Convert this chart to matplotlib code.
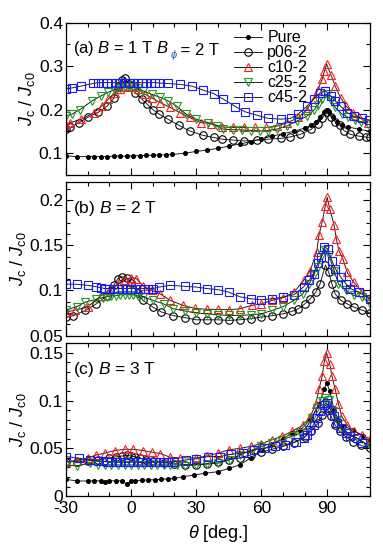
import matplotlib
matplotlib.use("Agg")
import matplotlib.pyplot as plt
from matplotlib.ticker import MultipleLocator

plt.rcParams['font.family'] = ['Liberation Sans', 'DejaVu Sans']
plt.rcParams['mathtext.fontset'] = 'custom'
plt.rcParams['mathtext.rm'] = 'Liberation Sans'
plt.rcParams['mathtext.it'] = 'Liberation Sans:italic'

# ---------------- panel (a): B = 1 T ----------------
th_pure_a = [-30, -25, -20, -17, -14, -11, -8, -5, -2, 1, 4, 7, 10, 13, 16, 19, 25, 30, 35, 40, 45, 50, 55,
             60, 65, 70, 75, 80, 83, 85, 87, 89, 90, 91, 93, 95, 97, 100, 105, 110]
jc_pure_a = [0.094, 0.092, 0.092, 0.092, 0.092, 0.092, 0.093, 0.093, 0.093, 0.094, 0.094, 0.095, 0.095, 0.096,
             0.096, 0.097, 0.100, 0.104, 0.107, 0.111, 0.116, 0.121, 0.126, 0.133, 0.139, 0.145, 0.150, 0.158,
             0.165, 0.172, 0.182, 0.195, 0.200, 0.195, 0.183, 0.172, 0.165, 0.160, 0.155, 0.150]

th_p06_a = [-30, -28, -24, -20, -15, -11, -8, -6, -4, -3, -1, 2, 5, 7.5, 10, 13, 17, 22, 27, 33, 38, 42, 47, 52,
            58, 63, 69, 73, 78, 83, 86, 88, 90, 92, 94, 96, 98, 101, 105, 108, 110]
jc_p06_a = [0.155, 0.159, 0.170, 0.182, 0.194, 0.208, 0.226, 0.251, 0.269, 0.272, 0.258, 0.239, 0.224, 0.212,
            0.200, 0.189, 0.178, 0.164, 0.151, 0.141, 0.136, 0.132, 0.130, 0.128, 0.130, 0.132, 0.134, 0.137,
            0.143, 0.155, 0.168, 0.180, 0.195, 0.184, 0.172, 0.164, 0.152, 0.143, 0.139, 0.137, 0.136]

th_c10_a = [-30, -28, -23, -17, -13.5, -10.5, -7.5, -5, -3, -1, 1, 3, 6.5, 9.5, 13.5, 18, 22.5, 27, 32, 37, 42,
            47, 52, 57, 62, 67, 72, 77, 81, 84, 86, 88, 89, 90, 92, 94, 96.5, 99, 102, 105, 109]
jc_c10_a = [0.165, 0.170, 0.178, 0.193, 0.208, 0.224, 0.239, 0.247, 0.252, 0.255, 0.253, 0.248, 0.235, 0.227,
            0.216, 0.205, 0.193, 0.182, 0.170, 0.168, 0.160, 0.159, 0.159, 0.159, 0.159, 0.162, 0.170, 0.182,
            0.200, 0.224, 0.246, 0.270, 0.288, 0.305, 0.280, 0.254, 0.227, 0.208, 0.193, 0.182, 0.170]

th_c25_a = [-30, -27, -23.5, -18, -14, -10.5, -7.5, -5, -3, -1, 1, 3, 5.5, 9.5, 13.5, 17, 21, 25.5, 30, 35.5,
            39.5, 42.5, 47, 51, 55, 59.5, 63, 67, 72, 76.5, 81, 84, 86, 88, 90, 92, 94, 97, 100, 103, 106, 109]
jc_c25_a = [0.185, 0.190, 0.200, 0.220, 0.231, 0.240, 0.246, 0.250, 0.252, 0.253, 0.252, 0.250, 0.243, 0.235,
            0.228, 0.220, 0.208, 0.189, 0.178, 0.170, 0.162, 0.155, 0.154, 0.153, 0.152, 0.151, 0.152, 0.155,
            0.163, 0.174, 0.185, 0.198, 0.210, 0.225, 0.235, 0.222, 0.205, 0.190, 0.182, 0.176, 0.171, 0.166]

th_c45_a = [-30, -27, -23, -17.5, -15, -13, -11, -9, -7, -5, -3, -1, 1, 3, 5, 7, 9, 11, 13, 17, 22.5, 28, 33,
            38, 42.5, 48, 52.5, 58, 63, 69, 73.5, 77, 81, 84, 87, 89.5, 92, 94, 96.5, 99.5, 102.5, 106.5, 109.5]
jc_c45_a = [0.248, 0.250, 0.254, 0.260, 0.262, 0.262, 0.262, 0.262, 0.262, 0.262, 0.262, 0.262, 0.262, 0.262,
            0.262, 0.262, 0.262, 0.262, 0.261, 0.260, 0.258, 0.254, 0.245, 0.237, 0.224, 0.207, 0.195, 0.187,
            0.180, 0.178, 0.180, 0.190, 0.208, 0.224, 0.238, 0.243, 0.231, 0.220, 0.208, 0.193, 0.185, 0.180,
            0.176]

# ---------------- panel (b): B = 2 T ----------------
th_p06_b = [-30, -26.5, -21, -16, -11, -8, -6, -4, -2, 0, 3, 5.5, 10, 14, 19.5, 25, 30, 35, 40, 45, 50, 55, 60,
            65, 70, 74, 77, 80, 82.5, 85, 87, 89.5, 91, 92.5, 94, 96.5, 99.5, 102.5, 106.5, 110]
jc_p06_b = [0.070, 0.072, 0.0778, 0.085, 0.094, 0.1056, 0.113, 0.115, 0.114, 0.108, 0.097, 0.089, 0.0815,
            0.076, 0.072, 0.0697, 0.0674, 0.0674, 0.0674, 0.0667, 0.0674, 0.0685, 0.0704, 0.072, 0.074, 0.0767,
            0.0796, 0.085, 0.0907, 0.098, 0.107, 0.128, 0.120, 0.107, 0.096, 0.089, 0.085, 0.0815, 0.078, 0.075]

th_c10_b = [-30, -26, -20, -14, -10, -6, -3, 0, 2.5, 5.5, 9.5, 13.5, 18, 24, 29.5, 35, 40, 45, 50, 55.5, 60,
            65, 70, 75, 79.5, 82.5, 85.5, 86.5, 88, 89.5, 90.3, 91.5, 93.5, 94.5, 95.7, 97.5, 99.5, 102.5,
            106.5, 110]
jc_c10_b = [0.076, 0.078, 0.0815, 0.094, 0.100, 0.107, 0.112, 0.114, 0.113, 0.105, 0.100, 0.096, 0.089,
            0.0833, 0.080, 0.079, 0.079, 0.0785, 0.0796, 0.0833, 0.085, 0.089, 0.092, 0.098, 0.111, 0.122,
            0.143, 0.161, 0.176, 0.194, 0.203, 0.190, 0.172, 0.157, 0.144, 0.135, 0.120, 0.109, 0.098, 0.091]

th_c25_b = [-30, -25, -21, -16, -13, -11, -9, -7, -5, -3, -1, 1, 3, 5.5, 10, 15, 19.5, 25, 30, 35, 40, 45, 50,
            55, 60, 65, 70, 75, 79, 82, 84, 86, 88, 89.5, 91, 93.5, 95.5, 99, 102.5, 106.5, 110]
jc_c25_b = [0.078, 0.082, 0.087, 0.090, 0.092, 0.093, 0.094, 0.094, 0.095, 0.095, 0.095, 0.095, 0.094, 0.093,
            0.089, 0.085, 0.0796, 0.077, 0.075, 0.074, 0.073, 0.0722, 0.0722, 0.073, 0.074, 0.0778, 0.082,
            0.089, 0.096, 0.107, 0.117, 0.126, 0.139, 0.145, 0.139, 0.122, 0.107, 0.100, 0.0944, 0.0926, 0.085]

th_c45_b = [-30, -25, -20, -16, -14, -12, -10, -8, -6, -4, -2, 0, 2, 4, 6, 8, 10, 13, 18, 25, 30, 35, 40, 45,
            50, 55, 60, 65, 70, 75, 79.5, 82, 84, 86, 87.5, 89, 90.5, 92.5, 94, 96.5, 99, 101, 105, 110]
jc_c45_b = [0.107, 0.1067, 0.1056, 0.104, 0.103, 0.102, 0.102, 0.102, 0.102, 0.102, 0.102, 0.102, 0.102,
            0.102, 0.102, 0.102, 0.102, 0.1037, 0.1056, 0.1044, 0.1037, 0.102, 0.1008, 0.098, 0.093, 0.0907,
            0.0896, 0.0907, 0.0926, 0.0952, 0.104, 0.111, 0.1185, 0.130, 0.137, 0.148, 0.146, 0.133, 0.124,
            0.115, 0.107, 0.102, 0.098, 0.090]

# ---------------- panel (c): B = 3 T ----------------
th_pure_c = [-30, -25, -20, -17, -14, -12, -10, -7, -4, -2, 0, 2, 5, 8, 11, 14, 17, 20, 24, 29, 34, 40, 45, 50,
             55, 60, 65, 70, 74, 78, 82.5, 86.5, 89, 90, 91.5, 93.5, 95.5, 98, 102, 107, 110]
jc_pure_c = [0.0176, 0.0158, 0.0158, 0.016, 0.016, 0.0145, 0.016, 0.016, 0.016, 0.0125, 0.0158, 0.016, 0.0165,
             0.017, 0.017, 0.0176, 0.018, 0.0186, 0.0203, 0.022, 0.0239, 0.0255, 0.029, 0.0326, 0.0397, 0.048,
             0.054, 0.060, 0.066, 0.069, 0.080, 0.096, 0.1116, 0.1186, 0.110, 0.090, 0.080, 0.073, 0.0695,
             0.0625, 0.057]

th_p06_c = [-30, -25, -20, -15, -10, -7, -4, -2, 0, 2, 4, 7, 10, 15, 20, 25, 30, 35, 40, 45, 50, 55, 60, 65,
            70, 75, 80, 83, 86, 88, 90, 92, 94, 96, 99, 102, 106, 110]
jc_p06_c = [0.036, 0.036, 0.037, 0.038, 0.040, 0.041, 0.042, 0.0425, 0.042, 0.041, 0.040, 0.038, 0.037, 0.035,
            0.034, 0.033, 0.033, 0.034, 0.036, 0.038, 0.040, 0.043, 0.046, 0.049, 0.052, 0.056, 0.062, 0.068,
            0.076, 0.085, 0.092, 0.084, 0.074, 0.068, 0.062, 0.057, 0.053, 0.050]

th_c10_c = [-30, -25, -20, -16, -12, -7.5, -3, 1, 5.5, 9.5, 13.5, 18, 22.5, 30, 35, 40, 45, 50, 55, 60, 65,
            69.5, 74, 79, 82.5, 85, 86.5, 88, 89, 90, 91.5, 92.5, 94, 95.5, 97, 99.5, 102.5, 106.5, 110]
jc_c10_c = [0.036, 0.037, 0.040, 0.043, 0.045, 0.0477, 0.049, 0.049, 0.0477, 0.046, 0.0445, 0.0407, 0.040,
            0.040, 0.042, 0.045, 0.0484, 0.050, 0.052, 0.055, 0.059, 0.0625, 0.0677, 0.074, 0.083, 0.096,
            0.1116, 0.1256, 0.1414, 0.150, 0.138, 0.1256, 0.1116, 0.096, 0.0835, 0.0747, 0.0677, 0.064, 0.0597]

th_c25_c = [-30, -25, -19, -15, -12, -9, -6, -3, 0, 3, 6, 9, 12, 15, 18, 21, 25, 30, 35, 40, 45.5, 50, 55.5,
            60, 65, 69.5, 74, 78, 81, 83.5, 85.5, 88, 89.5, 91, 93, 95, 97, 100, 104, 110]
jc_c25_c = [0.0326, 0.0316, 0.0344, 0.033, 0.033, 0.0326, 0.0326, 0.0326, 0.0326, 0.0326, 0.0326, 0.0326,
            0.0326, 0.0326, 0.0326, 0.0326, 0.032, 0.0326, 0.0335, 0.0344, 0.038, 0.043, 0.048, 0.052, 0.0555,
            0.059, 0.0625, 0.066, 0.073, 0.0818, 0.092, 0.0993, 0.1028, 0.101, 0.0888, 0.080, 0.0712, 0.066,
            0.0607, 0.052]

th_c45_c = [-30, -24, -19, -15, -13, -11, -9, -7, -5, -3, -1, 1, 3, 5, 7, 9, 11, 13, 15, 17, 20, 25.5, 30,
            35.5, 41, 46, 51.5, 56.5, 61, 66.5, 71, 76, 79.5, 81, 82.5, 84, 85.7, 87.2, 88.8, 90, 91.8, 93.4,
            95, 96.5, 98.8, 101, 104, 106.5]
jc_c45_c = [0.0414, 0.0397, 0.0379, 0.037, 0.0365, 0.036, 0.0357, 0.0354, 0.0354, 0.0354, 0.0354, 0.0354,
            0.0354, 0.0354, 0.0354, 0.0354, 0.0354, 0.0354, 0.0354, 0.0354, 0.036, 0.0379, 0.039, 0.0414,
            0.0414, 0.0438, 0.045, 0.0484, 0.050, 0.052, 0.0537, 0.057, 0.0607, 0.064, 0.0695, 0.0747, 0.0818,
            0.0888, 0.0958, 0.0975, 0.0905, 0.0835, 0.077, 0.0712, 0.066, 0.063, 0.0607, 0.0555]

# marker styles per sample
styles = {
    'Pure':  dict(marker='o', ms=2.8, mfc='black', mec='black'),
    'p06-2': dict(marker='o', ms=5.4, mfc='none', mec='black'),
    'c10-2': dict(marker='^', ms=6.0, mfc='none', mec='#ff1a1a'),
    'c25-2': dict(marker='v', ms=6.0, mfc='none', mec='#1f9a1f'),
    'c45-2': dict(marker='s', ms=5.4, mfc='none', mec='#1a1aff'),
}

panels = [
    {'Pure': (th_pure_a, jc_pure_a), 'p06-2': (th_p06_a, jc_p06_a), 'c10-2': (th_c10_a, jc_c10_a),
     'c25-2': (th_c25_a, jc_c25_a), 'c45-2': (th_c45_a, jc_c45_a)},
    {'p06-2': (th_p06_b, jc_p06_b), 'c10-2': (th_c10_b, jc_c10_b),
     'c25-2': (th_c25_b, jc_c25_b), 'c45-2': (th_c45_b, jc_c45_b)},
    {'Pure': (th_pure_c, jc_pure_c), 'p06-2': (th_p06_c, jc_p06_c), 'c10-2': (th_c10_c, jc_c10_c),
     'c25-2': (th_c25_c, jc_c25_c), 'c45-2': (th_c45_c, jc_c45_c)},
]
ylims = [(0.05, 0.4), (0.05, 0.22), (0, 0.16)]
yminor = [0.05, 0.0125, 0.01]
ylabels_fmt = [['0.1', '0.2', '0.3', '0.4'], ['0.05', '0.1', '0.15', '0.2'], ['0', '0.05', '0.1', '0.15']]
yticks = [[0.1, 0.2, 0.3, 0.4], [0.05, 0.1, 0.15, 0.2], [0, 0.05, 0.1, 0.15]]

fig = plt.figure(figsize=(3.83, 5.5), dpi=100)
boxes = [(0.172, 0.682, 0.794, 0.277), (0.172, 0.390, 0.794, 0.279), (0.172, 0.098, 0.794, 0.278)]
axes = [fig.add_axes(b) for b in boxes]

for i, ax in enumerate(axes):
    for name in ['Pure', 'p06-2', 'c10-2', 'c25-2', 'c45-2']:
        if name not in panels[i]:
            continue
        th, jc = panels[i][name]
        ax.plot(th, jc, color='#202020', lw=0.7, mew=0.8, label=name, **styles[name])
    ax.set_xlim(-30, 110)
    ax.set_ylim(*ylims[i])
    ax.xaxis.set_major_locator(MultipleLocator(30))
    ax.xaxis.set_minor_locator(MultipleLocator(10))
    ax.set_yticks(yticks[i])
    ax.set_yticklabels(ylabels_fmt[i])
    ax.yaxis.set_minor_locator(MultipleLocator(yminor[i]))
    ax.tick_params(which='both', direction='in', top=True, right=True, labelsize=12.5, width=0.8)
    ax.tick_params(which='major', length=5)
    ax.tick_params(which='minor', length=3)
    ax.tick_params(axis='y', pad=2)
    for s in ax.spines.values():
        s.set_linewidth(0.9)
    ax.set_ylabel(r'$J_{\rm c}$ / $J_{\rm c0}$', fontsize=13, labelpad=1)
    if i < 2:
        ax.tick_params(labelbottom=False)

axes[2].set_xticks([-30, 0, 30, 60, 90])
axes[2].set_xticklabels(['-30', '0', '30', '60', '90'])
axes[2].set_xlabel(r'$\theta$ [deg.]', fontsize=13, labelpad=5)

# panel annotations
t1 = axes[0].text(0.025, 0.80, '(a) $B$ = 1 T $B$', transform=axes[0].transAxes, fontsize=12)
axes[0].annotate(r'$\phi$', xy=(1, 0), xycoords=t1, xytext=(0.3, -3), textcoords='offset points',
                 fontsize=8, color='#3060c0', ha='left', va='bottom')
axes[0].annotate(' = 2 T', xy=(1, 0), xycoords=t1, xytext=(4.5, 0), textcoords='offset points',
                 fontsize=12, ha='left', va='bottom')
axes[1].text(0.025, 0.80, '(b) $B$ = 2 T', transform=axes[1].transAxes, fontsize=12.5)
axes[2].text(0.025, 0.80, '(c) $B$ = 3 T', transform=axes[2].transAxes, fontsize=12.5)

axes[0].legend(loc='upper left', bbox_to_anchor=(0.552, 0.95), frameon=False, fontsize=11.5,
               handlelength=1.8, handletextpad=0.3, labelspacing=0.0, borderaxespad=0.0, borderpad=0.0)

fig.savefig('out.png', dpi=100)
